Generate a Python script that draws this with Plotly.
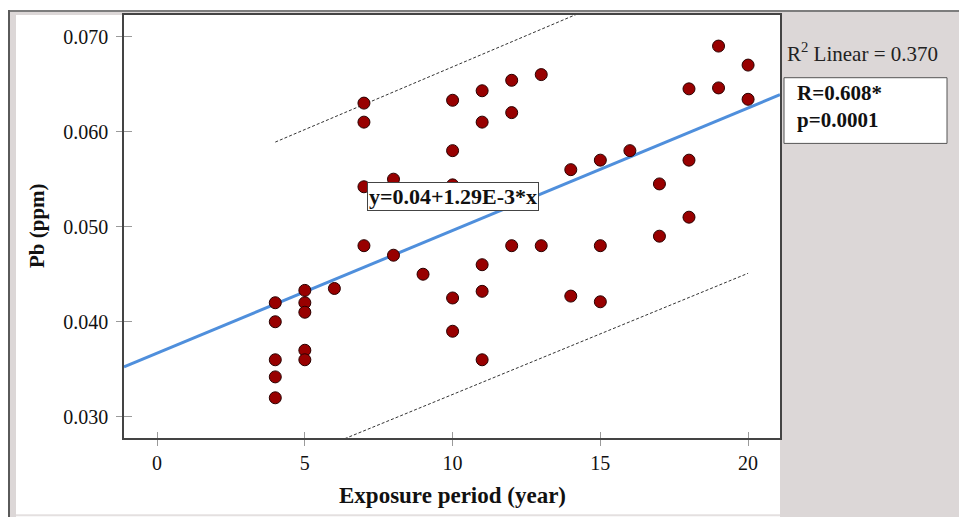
import plotly.graph_objects as go

# ---- data ----
exposure_years = [4, 4, 4, 4, 4,
                  5, 5, 5, 5, 5,
                  6,
                  7, 7, 7, 7,
                  8, 8,
                  9, 9,
                  10, 10, 10, 10, 10,
                  11, 11, 11, 11, 11,
                  12, 12, 12,
                  13, 13,
                  14, 14,
                  15, 15, 15,
                  16,
                  17, 17,
                  18, 18, 18,
                  19, 19,
                  20, 20]
pb_ppm = [0.0420, 0.0400, 0.0360, 0.0342, 0.0320,
          0.0433, 0.0420, 0.0410, 0.0370, 0.0360,
          0.0435,
          0.0630, 0.0610, 0.0542, 0.0480,
          0.0550, 0.0470,
          0.0540, 0.0450,
          0.0633, 0.0580, 0.0544, 0.0425, 0.0390,
          0.0643, 0.0610, 0.0460, 0.0432, 0.0360,
          0.0654, 0.0620, 0.0480,
          0.0660, 0.0480,
          0.0560, 0.0427,
          0.0570, 0.0480, 0.0421,
          0.0580,
          0.0545, 0.0490,
          0.0645, 0.0570, 0.0510,
          0.0690, 0.0646,
          0.0670, 0.0634]

fit_intercept = 0.0367
fit_slope = 0.00129

pi_x = [4, 20]
pi_upper = [0.0589, 0.0800]
pi_lower = [0.0247, 0.0451]

x_range = [-1.12, 21.08]
y_range = [0.02777, 0.07227]
x_ticks = [0, 5, 10, 15, 20]
y_ticks = [0.030, 0.040, 0.050, 0.060, 0.070]
y_ticktext = ["0.030", "0.040", "0.050", "0.060", "0.070"]

equation_text = "y=0.04+1.29E-3*x"
r2_text = "R<sup>2</sup> Linear = 0.370"
stats_lines = ["R=0.608*", "p=0.0001"]
x_title = "Exposure period (year)"
y_title = "Pb (ppm)"

# ---- figure ----
# the page body has an 8px margin, so the figure starts at screen (8, 8)
OFF = 8
W, H = 967 - OFF, 517 - OFF
PL, PR, PT, PB_ = 124, 780, 13, 438          # plot area in screen pixels
ML, MR, MT, MB = PL - OFF, (W + OFF) - PR, PT - OFF, (H + OFF) - PB_
PW, PH = PR - PL, PB_ - PT


def xp(px):
    return (px - PL) / PW


def yp(py):
    return (PB_ - py) / PH


SERIF = "Liberation Serif, Times New Roman, serif"
GRAY = "#DCD7D7"

fig = go.Figure()

fit_x = list(x_range)
fit_y = [fit_intercept + fit_slope * v for v in fit_x]

fig.add_trace(go.Scatter(x=pi_x, y=pi_upper, mode="lines",
                         line=dict(color="#333333", width=1, dash="3px,2px"),
                         hoverinfo="skip", showlegend=False))
fig.add_trace(go.Scatter(x=pi_x, y=pi_lower, mode="lines",
                         line=dict(color="#333333", width=1, dash="3px,2px"),
                         hoverinfo="skip", showlegend=False))
fig.add_trace(go.Scatter(x=fit_x, y=fit_y, mode="lines",
                         line=dict(color="#4F8FDC", width=3),
                         hoverinfo="skip", showlegend=False))
fig.add_trace(go.Scatter(x=exposure_years, y=pb_ppm, mode="markers",
                         marker=dict(size=12, color="#980000",
                                     line=dict(color="#2a0000", width=1)),
                         showlegend=False, cliponaxis=False))
# invisible trace for the overlay axes (inner half of the ticks)
fig.add_trace(go.Scatter(x=[None], y=[None], xaxis="x2", yaxis="y2",
                         mode="markers", showlegend=False, hoverinfo="skip"))

axis_common = dict(showgrid=False, zeroline=False)
tick_font = dict(family=SERIF, size=20, color="#111111")

fig.update_layout(
    width=W, height=H,
    margin=dict(l=ML, r=MR, t=MT, b=MB, pad=0),
    paper_bgcolor="white", plot_bgcolor="white",
    font=dict(family=SERIF, color="#222222"),
    xaxis=dict(range=x_range, tickvals=x_ticks, ticks="outside", ticklen=6,
               tickcolor="#9a9a9a", tickwidth=1,
               showline=True, linecolor="#444444", linewidth=1.5, mirror=True,
               tickfont=tick_font, ticklabelstandoff=0, **axis_common),
    yaxis=dict(range=y_range, tickvals=y_ticks, ticktext=y_ticktext,
               ticks="outside", ticklen=6, tickcolor="#9a9a9a", tickwidth=1,
               showline=True, linecolor="#444444", linewidth=1.5, mirror=True,
               tickfont=tick_font, ticklabelstandoff=4, **axis_common),
    xaxis2=dict(range=x_range, tickvals=x_ticks, ticks="inside", ticklen=6,
                tickcolor="#9a9a9a", tickwidth=1, overlaying="x",
                showticklabels=False, showline=False, **axis_common),
    yaxis2=dict(range=y_range, tickvals=y_ticks, ticks="inside", ticklen=8,
                tickcolor="#9a9a9a", tickwidth=1, overlaying="y",
                showticklabels=False, showline=False, **axis_common),
)

shapes = [
    # right gray panel
    dict(type="rect", xref="paper", yref="paper", x0=xp(780), x1=xp(968),
         y0=yp(518), y1=yp(10), fillcolor=GRAY, line=dict(width=0), layer="below"),
    # left gray band
    dict(type="rect", xref="paper", yref="paper", x0=xp(8), x1=xp(16),
         y0=yp(518), y1=yp(10), fillcolor=GRAY, line=dict(width=0), layer="below"),
    # top gray band
    dict(type="rect", xref="paper", yref="paper", x0=xp(8), x1=xp(968),
         y0=yp(13), y1=yp(10), fillcolor=GRAY, line=dict(width=0), layer="below"),
    # top dark frame line
    dict(type="line", xref="paper", yref="paper", x0=xp(8), x1=xp(968),
         y0=yp(9), y1=yp(9), line=dict(color="#7d7d7d", width=2), layer="below"),
    # left dark frame line
    dict(type="line", xref="paper", yref="paper", x0=xp(9), x1=xp(9),
         y0=yp(518), y1=yp(8), line=dict(color="#5a5a5a", width=2), layer="below"),
    # bottom faint line
    dict(type="line", xref="paper", yref="paper", x0=xp(16), x1=xp(780),
         y0=yp(515.5), y1=yp(515.5), line=dict(color="#e4e0e0", width=2), layer="below"),
    # stats box
    dict(type="rect", xref="paper", yref="paper", x0=xp(784), x1=xp(947),
         y0=yp(142), y1=yp(76), fillcolor="white",
         line=dict(color="#555555", width=1)),
]
fig.update_layout(shapes=shapes)

bold_font = dict(family=SERIF, size=22, color="#111111", weight="bold")
annotations = [
    dict(text=equation_text, x=10, y=0.0532, xref="x", yref="y",
         showarrow=False, font=bold_font,
         bgcolor="white", bordercolor="#444444", borderwidth=1, borderpad=1),
    dict(text=r2_text, x=xp(785), y=yp(51), xref="paper", yref="paper",
         xanchor="left", yanchor="middle", showarrow=False,
         font=dict(family=SERIF, size=21, color="#222222")),
    dict(text="<br>".join(stats_lines), x=xp(796), y=yp(105), xref="paper",
         yref="paper", xanchor="left", yanchor="middle", align="left",
         showarrow=False, borderpad=0,
         font=dict(family=SERIF, size=21, color="#111111", weight="bold")),
    dict(text=x_title, x=xp(452), y=yp(496), xref="paper", yref="paper",
         xanchor="center", yanchor="middle", showarrow=False,
         font=dict(family=SERIF, size=23, color="#111111", weight="bold")),
    dict(text=y_title, x=xp(37), y=yp(225), xref="paper", yref="paper",
         xanchor="center", yanchor="middle", showarrow=False, textangle=-90,
         font=dict(family=SERIF, size=21, color="#111111", weight="bold")),
]
fig.update_layout(annotations=annotations)

fig.write_html("out.html")
